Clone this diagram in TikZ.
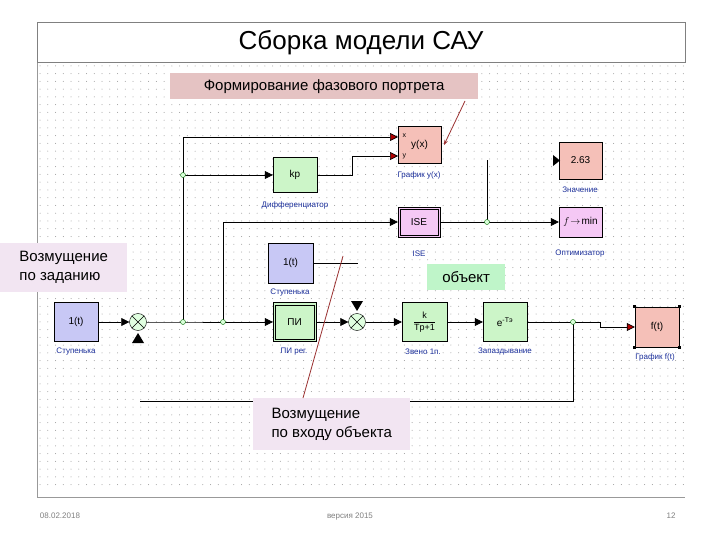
\documentclass[tikz,border=0pt]{standalone}
\usepackage{fontspec}
\setmainfont{Liberation Sans}
\usetikzlibrary{arrows.meta}
\definecolor{gbox}{HTML}{CCF5C8}
\definecolor{bbox}{HTML}{C8C8F5}
\definecolor{rbox}{HTML}{F5C0B8}
\definecolor{mbox}{HTML}{F5C8F5}
\definecolor{lbl}{HTML}{1A2E9A}
\definecolor{ptr}{HTML}{9A3030}
\begin{document}
\begin{tikzpicture}[x=1pt,y=-1pt,
  blk/.style={draw,inner sep=0pt,font=\fontsize{10}{12}\selectfont},
  lab/.style={font=\fontsize{8}{10}\selectfont,text=lbl},
  wire/.style={draw,line width=0.7pt},
  arr/.style={wire,-{Triangle[length=8pt,width=8pt]}},
  rarr/.style={wire,-{Triangle[length=8pt,width=8pt,fill=red!70!black]}},
  jn/.style={circle,draw=green!40!black,fill=green!15,inner sep=0pt,minimum size=5pt},
  sumn/.style={circle,draw,fill=green!12,inner sep=0pt,minimum size=17pt},
  callout/.style={inner sep=3pt,font=\fontsize{15}{19}\selectfont,align=left},
  foot/.style={text=black!50,font=\fontsize{8}{10}\selectfont,anchor=base}]
\useasboundingbox (0,0) rectangle (720,540);
\fill[white] (0,0) rectangle (720,540);
% grid
\foreach \i in {0,...,83}{\foreach \j in {0,...,54}{
  \fill[black!40] (40+\i*7.75,66+\j*7.75) circle (0.5pt);}}
\draw[black!40] (37,62) -- (37,497) -- (685,497);
% title
\node[draw=black!50,fill=white,minimum width=648pt,minimum height=40pt,anchor=north west,inner sep=0pt] (title) at (37,22) {};
\node[font=\fontsize{26}{30}\selectfont] (tt) at (361,43) {Сборка модели САУ};
% callouts
\node[callout,fill=red!15!white!90!black,minimum width=308pt,minimum height=26pt,anchor=north west,align=center] (c1) at (170,73) {Формирование фазового портрета};
\node[callout,fill=violet!10,minimum width=127pt,minimum height=49pt,anchor=north west,inner sep=4pt] (c2) at (0,243) {Возмущение\\по заданию};
\node[callout,fill=teal!30!green!25,minimum width=78pt,minimum height=26pt,anchor=north west,align=center] (c3) at (427,264) {объект};
% blocks
\node[blk,fill=rbox,minimum width=43pt,minimum height=37pt] (yx) at (419.5,144.5) {y(x)};
\node[font=\fontsize{7}{8}\selectfont,anchor=west] at (399,136) {x};
\node[font=\fontsize{7}{8}\selectfont,anchor=west] at (399,156) {y};
\node[lab] (lyx) at (419,175) {График y(x)};
\node[blk,fill=gbox,minimum width=44pt,minimum height=35pt] (kp) at (295,175) {kp};
\node[lab] (lkp) at (295,205) {Дифференциатор};
\node[blk,fill=rbox,minimum width=43pt,minimum height=37pt] (val) at (580.5,160.5) {2.63};
\node[lab] (lval) at (580,190) {Значение};
\node[blk,fill=mbox,minimum width=42pt,minimum height=30pt] (ise) at (419,222) {ISE};
\draw ([shift={(2.5,2.5)}]ise.north west) rectangle ([shift={(-2.5,-2.5)}]ise.south east);
\node[lab] (lise) at (419,254) {ISE};
\node[blk,fill=mbox,minimum width=43pt,minimum height=30pt] (opt) at (580.5,222) {$f\!\to\!\min$};
\node[lab] (lopt) at (580,254) {Оптимизатор};
\node[blk,fill=bbox,minimum width=45pt,minimum height=40pt] (st2) at (290.5,263) {1(t)};
\node[lab] (lst2) at (290,293) {Ступенька};
\node[blk,fill=bbox,minimum width=44pt,minimum height=39pt] (st1) at (76,322) {1(t)};
\node[lab] (lst1) at (76,352) {Ступенька};
\node[blk,fill=gbox,minimum width=43pt,minimum height=39pt] (pi) at (294.5,322) {ПИ};
\draw ([shift={(2.5,2.5)}]pi.north west) rectangle ([shift={(-2.5,-2.5)}]pi.south east);
\node[lab] (lpi) at (294,352) {ПИ рег.};
\node[blk,fill=gbox,minimum width=45pt,minimum height=39pt,font=\fontsize{9}{10}\selectfont] (w1) at (424.5,322) {$\displaystyle\frac{\hbox{k}}{\hbox{Tp+1}}$};
\node[lab] (lw1) at (423,352) {Звено 1п.};
\node[blk,fill=gbox,minimum width=44pt,minimum height=39pt] (del) at (505,322) {e\textsuperscript{-Tэ}};
\node[lab] (ldel) at (505,352) {Запаздывание};
\node[blk,fill=rbox,minimum width=44pt,minimum height=40pt] (gr) at (657,327) {f(t)};
\foreach \a in {north west,north east,south west,south east}{\fill (gr.\a) +(-1.5,-1.5) rectangle +(1.5,1.5);}
\node[lab] (lgr) at (655,357) {График f(t)};
% sums
\node[sumn] (s1) at (138,322) {};
\draw (s1.north west) -- (s1.south east) (s1.north east) -- (s1.south west);
\node[sumn] (s2) at (357,322) {};
\draw (s2.north west) -- (s2.south east) (s2.north east) -- (s2.south west);
\fill (132,343) -- (144,343) -- (138,333) -- cycle;
\fill (351,301) -- (363,301) -- (357,311) -- cycle;
% junctions
\coordinate (j1) at (183,175);
\coordinate (j2) at (183,322);
\coordinate (j3) at (223,322);
\coordinate (j4) at (487,222);
\coordinate (j5) at (573,322);
% wires
\draw[arr] (st1.east) -- (s1.west);
\draw[wire] (s1.east) -- (j2) -- (j3);
\draw[arr] (j3) -- (pi.west);
\draw[wire] (j2) -- (j1);
\draw[rarr] (j1) |- (183,137) -- (398,137);
\draw[arr] (j1) -- (kp.west);
\draw[rarr] (kp.east) -- (352,175) |- (398,156);
\draw[arr] (j3) |- (ise.west);
\draw[wire] (ise.east) -- (j4);
\draw[arr] (j4) -- (opt.west);
\draw[wire] (j4) -- (487,160);
\draw[wire] (st2.east) -- (358,263);
\draw[arr] (pi.east) -- (s2.west);
\draw[arr] (s2.east) -- (w1.west);
\draw[arr] (w1.east) -- (del.west);
\draw[wire] (del.east) -- (j5);
\draw[rarr] (j5) -- (600,322) |- (gr.west);
\draw[wire] (j5) |- (140,401);
\fill (553,155) -- (560,160.5) -- (553,166) -- cycle;
\foreach \j in {j1,j2,j3,j4,j5}{\node[jn] at (\j) {};}
% lower callout
\node[callout,fill=violet!10,minimum width=157pt,minimum height=52pt,anchor=north west,inner sep=4pt] (c4) at (253,398) {Возмущение\\по входу объекта};
% pointers
\draw[ptr,line width=0.8pt,-{Stealth[length=5pt]}] (465,101) -- (444,145);
\draw[ptr,line width=0.8pt] (303,398) -- (343,256);
% footer
\node[foot] (f1) at (60,518) {08.02.2018};
\node[foot] (f2) at (350,518) {версия 2015};
\node[foot] (f3) at (671,518) {12};
\end{tikzpicture}
\end{document}
